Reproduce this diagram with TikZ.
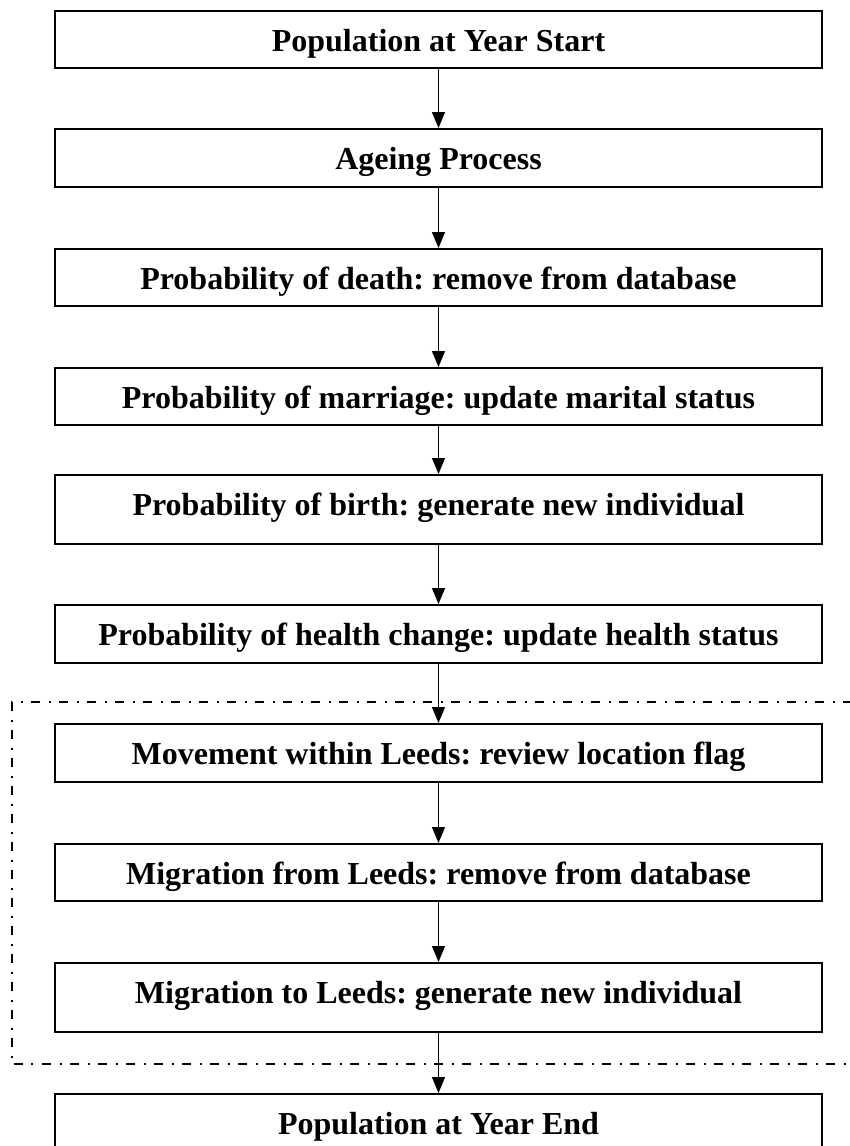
\documentclass[tikz,border=0pt]{standalone}
\usepackage{fontspec}
\setmainfont{Liberation Serif}
\usetikzlibrary{arrows.meta}
\frenchspacing
\begin{document}
\begin{tikzpicture}[x=1pt,y=-1pt,
  stagebox/.style={draw, line width=1.5pt, rectangle, anchor=north,
    minimum width=767pt, inner xsep=0pt, inner ysep=0pt,
    text height=41pt, text depth=#1-41pt,
    font=\fontsize{32}{38}\selectfont\bfseries},
  stagebox/.default=58pt,
  flow/.style={line width=1.3pt, -{Triangle[length=16pt,width=13pt]}},
  region/.style={line width=2pt, dash pattern=on 9pt off 8.5pt on 2pt off 8.5pt}]
\useasboundingbox (0,0) rectangle (849,1146);

% stages of one simulated year
\node[stagebox=57pt] (b1) at (438.5,10)   {Population at Year Start};
\node[stagebox]      (b2) at (438.5,128)  {Ageing Process};
\node[stagebox=57pt] (b3) at (438.5,248)  {Probability of death: remove from database};
\node[stagebox=57pt] (b4) at (438.5,367)  {Probability of marriage: update marital status};
\node[stagebox=69pt] (b5) at (438.5,474)  {Probability of birth: generate new individual};
\node[stagebox]      (b6) at (438.5,604)  {Probability of health change: update health status};
\node[stagebox]      (b7) at (438.5,723)  {Movement within Leeds: review location flag};
\node[stagebox=57pt] (b8) at (438.5,843)  {Migration from Leeds: remove from database};
\node[stagebox=69pt] (b9) at (438.5,962)  {Migration to Leeds: generate new individual};
\node[stagebox]      (b10) at (438.5,1093) {Population at Year End};

% sequence arrows
\foreach \a/\b in {b1/b2,b2/b3,b3/b4,b4/b5,b5/b6,b6/b7,b7/b8,b8/b9,b9/b10}
  \draw[flow] (\a.south) -- (\b.north);

% migration stage grouping
\draw[region] (852,702) -- (12,702) -- (12,1064) -- (852,1064);
\end{tikzpicture}
\end{document}
